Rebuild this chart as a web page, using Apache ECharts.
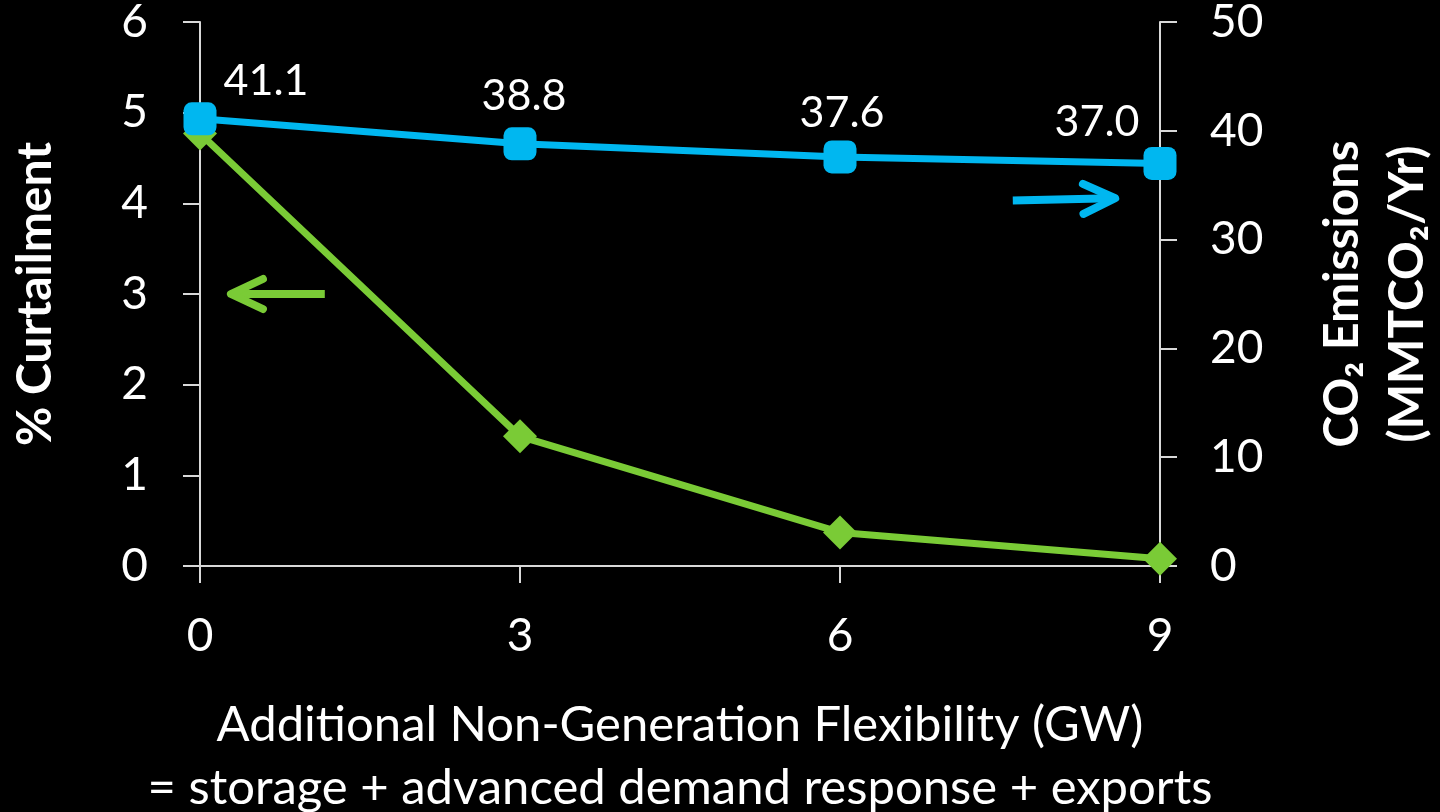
<!DOCTYPE html>
<html>
<head>
<meta charset="utf-8">
<script src="https://cdn.jsdelivr.net/npm/echarts@6/dist/echarts.min.js"></script>
<style>
  html, body { margin: 0; padding: 0; background: #000; }
  #chart { width: 1440px; height: 812px; }
</style>
</head>
<body>
<div id="chart"></div>
<script>
// Additional non-generation flexibility (GW)
const flexibilityGW = [0, 3, 6, 9];
// Curtailment, percent (left axis)
const curtailmentPct = [4.77, 1.43, 0.37, 0.08];
// CO2 emissions, MMTCO2 per year (right axis)
const co2Emissions = [41.1, 38.8, 37.6, 37.0];

const FONT = 'Lato, "Open Sans", sans-serif';
const GREEN = '#7acb36';
const BLUE = '#00b7f0';
const AXIS = '#d9d9d9';

// label placement per emissions point
const labelOffsets = [[66, 6], [4, -4], [2, 0], [-63, 3]];

const chart = echarts.init(document.getElementById('chart'));

const axisCommon = {
  axisLine: { show: true, lineStyle: { color: AXIS, width: 2 } },
  axisTick: { show: true, length: 17, lineStyle: { color: AXIS, width: 2 } },
  splitLine: { show: false },
  axisLabel: { color: '#fff', fontFamily: FONT, fontSize: 46 }
};

chart.setOption({
  backgroundColor: '#000',
  animation: false,
  grid: { left: 200, right: 280, top: 22, bottom: 246, containLabel: false, outerBoundsMode: 'none' },
  xAxis: Object.assign({}, axisCommon, {
    type: 'value', min: 0, max: 9, interval: 3,
    axisLabel: Object.assign({}, axisCommon.axisLabel, { margin: 47 }),
    name: 'Additional Non-Generation Flexibility (GW)\n= storage + advanced demand response + exports',
    nameLocation: 'middle',
    nameGap: 128,
    nameTextStyle: { color: '#fff', fontFamily: FONT, fontSize: 49, lineHeight: 63 }
  }),
  yAxis: [
    Object.assign({}, axisCommon, {
      type: 'value', min: 0, max: 6, interval: 1, position: 'left',
      axisLabel: Object.assign({}, axisCommon.axisLabel, { margin: 52 }),
      name: '% Curtailment',
      nameLocation: 'middle', nameRotate: 90, nameGap: 140,
      nameTextStyle: { color: '#fff', fontFamily: FONT, fontSize: 48, fontWeight: 'bold' }
    }),
    Object.assign({}, axisCommon, {
      type: 'value', min: 0, max: 50, interval: 10, position: 'right',
      axisLabel: Object.assign({}, axisCommon.axisLabel, { margin: 50 }),
      name: 'CO\u2082 Emissions\n(MMTCO\u2082/Yr)',
      nameLocation: 'middle', nameRotate: 90, nameGap: 150,
      nameTextStyle: { color: '#fff', fontFamily: FONT, fontSize: 48, fontWeight: 'bold', lineHeight: 65 }
    })
  ],
  series: [
    {
      name: '% Curtailment',
      type: 'line',
      yAxisIndex: 0,
      data: flexibilityGW.map((x, i) => [x, curtailmentPct[i]]),
      symbol: 'diamond',
      symbolSize: [34, 34],
      lineStyle: { color: GREEN, width: 7 },
      itemStyle: { color: GREEN },
      z: 2
    },
    {
      name: 'CO2 Emissions',
      type: 'line',
      yAxisIndex: 1,
      data: flexibilityGW.map((x, i) => ({
        value: [x, co2Emissions[i]],
        label: { offset: labelOffsets[i] }
      })),
      symbol: 'roundRect',
      symbolSize: 33,
      lineStyle: { color: BLUE, width: 7 },
      itemStyle: { color: BLUE },
      label: {
        show: true, position: 'top', distance: 6,
        color: '#fff', fontFamily: FONT, fontSize: 43,
        formatter: p => p.value[1].toFixed(1)
      },
      z: 3
    }
  ]
});

// Direction arrows pointing toward each series' axis
function arrow(from, to, color, axisIndex) {
  const a = chart.convertToPixel({ xAxisIndex: 0, yAxisIndex: axisIndex }, from);
  const b = chart.convertToPixel({ xAxisIndex: 0, yAxisIndex: axisIndex }, to);
  const ang = Math.atan2(b[1] - a[1], b[0] - a[0]);
  const back = 32, half = 15;
  const bx = b[0] - back * Math.cos(ang), by = b[1] - back * Math.sin(ang);
  const nx = -Math.sin(ang), ny = Math.cos(ang);
  const style = { stroke: color, lineWidth: 8, lineCap: 'round', lineJoin: 'round', fill: null };
  return [
    { type: 'line', shape: { x1: a[0], y1: a[1], x2: b[0] - 4 * Math.cos(ang), y2: b[1] - 4 * Math.sin(ang) }, style: Object.assign({}, style, { lineCap: 'butt' }), z: 10 },
    { type: 'polyline', shape: { points: [[bx + nx * half, by + ny * half], b, [bx - nx * half, by - ny * half]] }, style, z: 10 }
  ];
}

chart.setOption({
  graphic: [].concat(
    arrow([1.17, 3.0], [0.29, 3.0], GREEN, 0),
    arrow([7.62, 33.6], [8.58, 33.8], BLUE, 1)
  )
});
</script>
</body>
</html>
